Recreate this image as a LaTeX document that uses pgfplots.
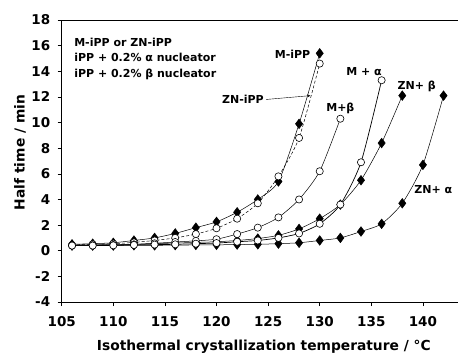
\documentclass[border=0pt]{standalone}
\usepackage{fontspec}
\setmainfont{DejaVu Sans}
\usepackage{pgfplots}
\pgfplotsset{compat=1.18}
\begin{document}
\begin{tikzpicture}
\begin{axis}[name=ax, scale only axis, width=396.3bp, height=282bp,
  xmin=105, xmax=143.4, ymin=-4, ymax=18,
  axis x line=box, axis y line=left,
  x axis line style={-, line width=0.6bp},
  y axis line style={-, line width=0.9bp},
  xtick={105,110,...,140}, ytick={-4,-2,...,18},
  xtick pos=bottom, ytick pos=left,
  tick align=outside, major tick length=4bp,
  tick style={black, line width=0.6bp},
  /pgf/number format/assume math mode=true,
  ticklabel style={font=\fontsize{13.5bp}{15bp}\selectfont\bfseries},
  xticklabel style={yshift=-7bp},
  yticklabel style={xshift=-4bp},
  xlabel={Isothermal crystallization temperature / °C},
  ylabel={Half time / min},
  label style={font=\fontsize{13.8bp}{16bp}\selectfont\bfseries},
  xlabel style={at={(axis description cs:0.51,0)}, anchor=base, yshift=-48bp},
  ylabel style={at={(axis description cs:-0.105,0.53)}, anchor=center},
  clip=false,
]
% M-iPP
\addplot[black, line width=0.5bp, smooth, tension=0.4, mark=diamond*, mark size=4.8bp, mark options={solid, fill=black}]
coordinates {(106,0.5)(108,0.55)(110,0.62)(112,0.8)(114,1.0)(116,1.35)(118,1.8)(120,2.25)(122,3.0)(124,4.0)(126,5.4)(128,9.9)(130,15.4)};
% ZN+beta
\addplot[black, line width=0.5bp, smooth, tension=0.4, mark=diamond*, mark size=4.8bp, mark options={fill=black}]
coordinates {(106,0.45)(108,0.45)(110,0.5)(112,0.5)(114,0.55)(116,0.6)(118,0.65)(120,0.7)(122,0.8)(124,0.95)(126,1.2)(128,1.7)(130,2.5)(132,3.6)(134,5.5)(136,8.4)(138,12.1)};
% ZN+alpha
\addplot[black, line width=0.5bp, smooth, tension=0.4, mark=diamond*, mark size=4.8bp, mark options={fill=black}]
coordinates {(106,0.4)(108,0.4)(110,0.4)(112,0.42)(114,0.42)(116,0.44)(118,0.45)(120,0.46)(122,0.48)(124,0.5)(126,0.55)(128,0.62)(130,0.8)(132,1.0)(134,1.5)(136,2.1)(138,3.7)(140,6.7)(142,12.1)};
% ZN-iPP
\addplot[black, line width=0.5bp, densely dashed, smooth, tension=0.4, mark=*, mark size=3.6bp, mark options={solid, fill=white, line width=0.6bp}]
coordinates {(106,0.45)(108,0.5)(110,0.55)(112,0.65)(114,0.8)(116,1.0)(118,1.3)(120,1.75)(122,2.5)(124,3.7)(126,5.8)(128,8.8)(130,14.6)};
% M+beta
\addplot[black, line width=0.5bp, smooth, tension=0.4, mark=*, mark size=3.6bp, mark options={fill=white, line width=0.6bp}]
coordinates {(106,0.4)(108,0.42)(110,0.45)(112,0.5)(114,0.58)(116,0.68)(118,0.77)(120,0.9)(122,1.3)(124,1.8)(126,2.6)(128,4.0)(130,6.2)(132,10.3)};
% M+alpha
\addplot[black, line width=0.7bp, smooth, tension=0.4, mark=*, mark size=3.6bp, mark options={fill=white, line width=0.6bp}]
coordinates {(106,0.4)(108,0.4)(110,0.42)(112,0.45)(114,0.48)(116,0.5)(118,0.55)(120,0.6)(122,0.7)(124,0.8)(126,1.0)(128,1.35)(130,2.1)(132,3.6)(134,6.9)(136,13.3)};

\begin{scope}[every node/.style={font=\fontsize{11bp}{12bp}\selectfont\bfseries, inner sep=0pt}]
\node[anchor=west] at (axis cs:106.2,16.28) {M-iPP or ZN-iPP};
\node[anchor=west] at (axis cs:106.2,15.11) {iPP + 0.2\% α nucleator};
\node[anchor=west] at (axis cs:106.2,13.79) {iPP + 0.2\% β nucleator};
\node[anchor=east] at (axis cs:129.1,15.3) {M-iPP};
\node[anchor=east] (zn) at (axis cs:124.6,11.84) {ZN-iPP};
\node at (axis cs:134.3,13.94) {M + α};
\node at (axis cs:139.4,12.85) {ZN+ β};
\node at (axis cs:132.0,11.14) {M+β};
\node at (axis cs:141.0,4.74) {ZN+ α};
\end{scope}
\draw[->, >=stealth, line width=0.4bp] (axis cs:124.8,11.8) -- (axis cs:129.1,12.1);
\end{axis}
\pgfresetboundingbox
\path ([shift={(-61.7bp,-52bp)}]ax.south west) rectangle ([shift={(0bp,20bp)}]ax.north east);
\end{tikzpicture}
\end{document}
